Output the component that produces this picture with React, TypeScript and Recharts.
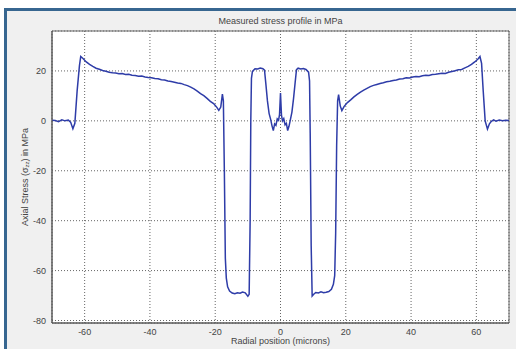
import React from "react";
import {
  CartesianGrid,
  Line,
  LineChart,
  ReferenceArea,
  XAxis,
  YAxis,
} from "recharts";

// radial position (microns) and measured axial stress (MPa)
const radialPos = [
  -70, -69, -68, -67, -66, -65, -64.3, -63.6, -63, -62.3, -61.6, -61.2, -60.5,
  -59.5, -58.5, -57.5, -56.5, -55.5, -54.5, -53.5, -52.5, -51.5, -50.5, -49.5,
  -48.5, -47.5, -46.5, -45.5, -44.5, -43.5, -42.5, -41.5, -40.5, -39.5, -38.5,
  -37.5, -36.5, -35.5, -34.5, -33.5, -32.5, -31.5, -30.5, -29.5, -28.5, -27.5,
  -26.5, -25.5, -24.5, -23.5, -22.5, -21.5, -20.5, -19.5, -18.9, -18.3, -17.8,
  -17.5, -17.2, -16.9, -16.6, -16.2, -15.6, -14.8, -14, -13.2, -12.4, -11.6,
  -10.8, -10, -9.6, -9.3, -9.1, -8.9, -8.6, -7.8, -7, -6.2, -5.4, -4.9, -4.5,
  -4, -3.5, -3, -2.6, -2.2, -1.8, -1.4, -1, -0.6, -0.3, 0, 0.3, 0.6, 1, 1.4,
  1.8, 2.2, 2.6, 3, 3.5, 4, 4.5, 4.9, 5.4, 6.2, 7, 7.8, 8.6, 8.9, 9.1, 9.4,
  9.7, 10.1, 10.8, 11.6, 12.4, 13.2, 14, 14.8, 15.6, 16.2, 16.6, 16.9, 17.2,
  17.5, 17.8, 18.3, 18.8, 19.5, 20.5, 21.5, 22.5, 23.5, 24.5, 25.5, 26.5, 27.5,
  28.5, 29.5, 30.5, 31.5, 32.5, 33.5, 34.5, 35.5, 36.5, 37.5, 38.5, 39.5, 40.5,
  41.5, 42.5, 43.5, 44.5, 45.5, 46.5, 47.5, 48.5, 49.5, 50.5, 51.5, 52.5, 53.5,
  54.5, 55.5, 56.5, 57.5, 58.5, 59.5, 60.5, 61.1, 61.6, 62.1, 62.7, 63.4, 64,
  64.6, 65.3, 66, 67, 68, 69, 70,
];

const axialStress = [
  0.2, 0.1, -0.3, 0.4, 0, 0.3, -0.5, -3.2, -1, 12, 22, 25.8, 25, 23.6, 22.6,
  21.8, 21.1, 20.7, 20.2, 19.9, 19.5, 19.3, 19.2, 18.9, 19, 18.6, 18.7, 18.3,
  18.2, 17.9, 18, 17.6, 17.4, 17.3, 17, 16.9, 16.5, 16.4, 16, 15.8, 15.5, 15.2,
  15, 14.5, 14.1, 13.5, 12.8, 11.9, 10.9, 10.1, 9, 7.8, 6.9, 5.4, 4.2, 5.5,
  10.7, 8, -20, -55, -63, -66.5, -68.2, -69, -69.3, -68.9, -69.1, -68.6, -68.9,
  -70.3, -69.5, -40, 0, 17, 19.8, 20.9, 20.8, 21.2, 20.9, 20.3, 15, 8, 3, 0.5,
  -2, -3.9, -1.2, -1.8, 0.8, 0.2, 2.5, 11.1, 2.3, 0, 0.9, -1.6, -1, -3.9, -2.2,
  0.3, 3.5, 9, 15.5, 20.5, 21.1, 20.8, 21, 20.6, 19.5, 16, -5, -50, -70.2,
  -69.6, -68.8, -69, -68.5, -68.9, -68.7, -68.4, -67.5, -65.5, -62, -45, -10, 8,
  10.5, 6, 4.1, 5.8, 7.3, 8.4, 9.6, 10.6, 11.5, 12.3, 13, 13.7, 14.2, 14.6, 15,
  15.3, 15.7, 15.9, 16.2, 16.4, 16.8, 16.9, 17.3, 17.2, 17.6, 17.8, 17.7, 18.1,
  18.3, 18.2, 18.6, 18.7, 18.9, 19.1, 19, 19.5, 19.8, 20.1, 20.5, 20.6, 21.2,
  21.8, 22.6, 23.6, 24.8, 25.8, 23, 12, 0, -3.3, -1.2, -0.2, 0.4, -0.1, 0.3, 0,
  0.2, 0.1,
];

const xTicks = [-60, -40, -20, 0, 20, 40, 60];
const yTicks = [-80, -60, -40, -20, 0, 20];

const data = radialPos.map((x, i) => ({ x, y: axialStress[i] }));

const FONT = "'Liberation Sans', Arial, sans-serif";
const tickStyle = { fontSize: 9, fill: "#444", fontFamily: FONT };

const YLabel = (props: any) => {
  const { viewBox } = props;
  const cx = 25;
  const cy = viewBox.y + viewBox.height / 2;
  return (
    <text
      x={cx}
      y={cy}
      transform={`rotate(-90 ${cx} ${cy})`}
      textAnchor="middle"
      dominantBaseline="central"
      fontSize={9}
      fill="#444"
      fontFamily={FONT}
    >
      Axial Stress (σ
      <tspan fontSize={6} dy={2}>zz</tspan>
      <tspan dy={-2}>) in MPa</tspan>
    </text>
  );
};

export default function App() {
  return (
    <div
      style={{
        position: "absolute",
        left: 0,
        top: 0,
        width: 516,
        height: 349,
        background: "#fff",
        overflow: "hidden",
      }}
    >
      <div
        style={{
          position: "absolute",
          left: 4,
          top: 8,
          width: 512,
          height: 341,
          borderLeft: "3px solid #376690",
          borderTop: "3px solid #376690",
          background: "#f0f0f0",
          boxSizing: "border-box",
        }}
      />
      <div
        style={{
          position: "absolute",
          left: 52,
          width: 457,
          top: 16,
          textAlign: "center",
          fontSize: 9,
          fontFamily: FONT,
          color: "#444",
        }}
      >
        Measured stress profile in MPa
      </div>
      <div
        style={{
          position: "absolute",
          left: 52,
          width: 457,
          top: 336,
          textAlign: "center",
          fontSize: 9,
          fontFamily: FONT,
          color: "#444",
        }}
      >
        Radial position (microns)
      </div>
      <div style={{ position: "absolute", left: 0, top: 0 }}>
        <LineChart
          width={516}
          height={349}
          data={data}
          margin={{ top: 31, right: 7, left: 0, bottom: 0 }}
        >
          <CartesianGrid
            xAxisId="b"
            yAxisId="l"
            fill="#fff"
            stroke="#666"
            strokeDasharray="1 2"
          />
          <XAxis
            xAxisId="b"
            dataKey="x"
            type="number"
            domain={[-70, 70]}
            ticks={xTicks}
            allowDataOverflow
            height={26}
            tick={tickStyle}
            tickLine={false}
            tickSize={4}
            stroke="#555"
          />
          <YAxis
            yAxisId="l"
            type="number"
            domain={[-81, 36]}
            ticks={yTicks}
            allowDataOverflow
            width={52}
            tick={tickStyle}
            tickLine={false}
            tickSize={4}
            stroke="#555"
            label={<YLabel />}
          />
          <ReferenceArea
            xAxisId="b"
            yAxisId="l"
            x1={-70}
            x2={70}
            y1={-81}
            y2={36}
            fill="none"
            stroke="#666"
            strokeWidth={1}
          />
          <Line
            xAxisId="b"
            yAxisId="l"
            type="linear"
            dataKey="y"
            stroke="#2e3ca8"
            strokeWidth={1.5}
            dot={false}
            isAnimationActive={false}
          />
        </LineChart>
      </div>
    </div>
  );
}
